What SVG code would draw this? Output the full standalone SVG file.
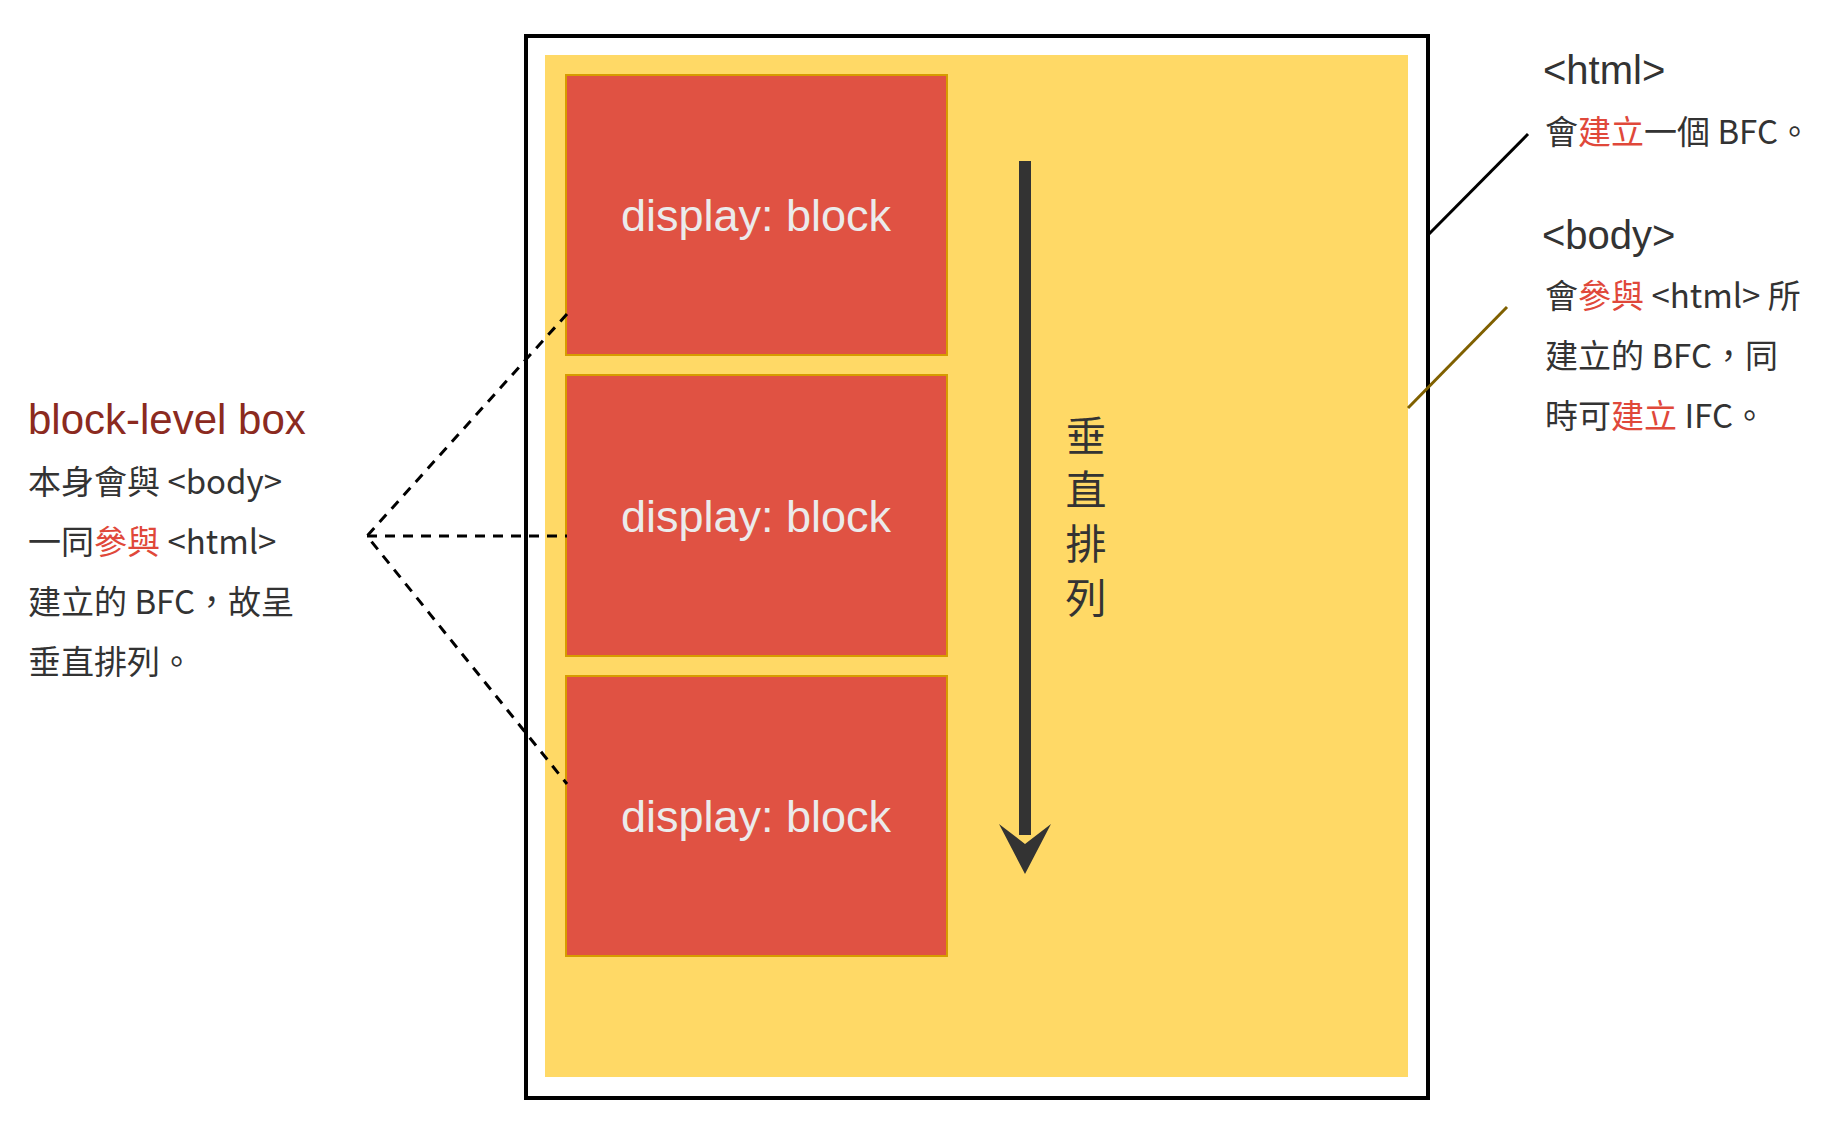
<svg xmlns="http://www.w3.org/2000/svg" width="1836" height="1126" viewBox="0 0 1836 1126">
<style>
.t{font-family:"Noto Sans CJK TC","Liberation Sans",sans-serif;fill:#333}
.r{fill:#E0483A}
.box{fill:#E05243;stroke:#D79B00;stroke-width:2}
.bt{font-family:"Liberation Sans",sans-serif;font-size:45px;fill:#ebebeb;text-anchor:middle}
.d{stroke:#000;stroke-width:3;stroke-dasharray:10 8;fill:none}
</style>
<rect width="1836" height="1126" fill="#fff"/>
<g id="html"><rect x="526" y="36" width="902" height="1062" fill="#fff" stroke="#000" stroke-width="4"/></g>
<g id="body"><rect x="545" y="55" width="863" height="1022" fill="#FFD966"/></g>
<g id="box1"><rect class="box" x="566" y="75" width="381" height="280"/><text class="bt" x="756" y="231">display: block</text></g>
<g id="box2"><rect class="box" x="566" y="375" width="381" height="281"/><text class="bt" x="756" y="532">display: block</text></g>
<g id="box3"><rect class="box" x="566" y="676" width="381" height="280"/><text class="bt" x="756" y="832">display: block</text></g>
<g id="connectors">
<line x1="1025" y1="161" x2="1025" y2="835" stroke="#333" stroke-width="12"/>
<polygon points="999,824 1025,874 1051,824 1025,844" fill="#333"/>
<line x1="1428" y1="235" x2="1528" y2="134" stroke="#000" stroke-width="3"/>
<line x1="1408" y1="408" x2="1507" y2="307" stroke="#7F6000" stroke-width="3"/>
<polyline class="d" points="567,314 367,536 567,784"/>
<line class="d" x1="367" y1="536" x2="567" y2="536"/>
</g>
<g id="vlabel" class="t" font-size="41" text-anchor="middle">
<text x="1086" y="451">垂<tspan x="1086" dy="54">直</tspan><tspan x="1086" dy="54">排</tspan><tspan x="1086" dy="54">列</tspan></text>
</g>
<g id="htmlnote" class="t">
<text x="1543" y="84" font-size="40" font-family="Liberation Sans,sans-serif">&lt;html&gt;</text>
<text x="1545" y="144" font-size="33">會<tspan class="r">建立</tspan>一個 BFC。</text>
</g>
<g id="bodynote" class="t" font-size="33">
<text x="1542" y="249" font-size="40" font-family="Liberation Sans,sans-serif">&lt;body&gt;</text>
<text x="1545" y="308">會<tspan class="r">參與</tspan> &lt;html&gt; 所</text>
<text x="1545" y="368">建立的 BFC，同</text>
<text x="1545" y="428">時可<tspan class="r">建立</tspan> IFC。</text>
</g>
<g id="blocknote" class="t" font-size="33">
<text x="28" y="434" font-size="42" style="fill:#8B2A20" font-family="Liberation Sans,sans-serif">block-level box</text>
<text x="28" y="494">本身會與 &lt;body&gt;</text>
<text x="28" y="554">一同<tspan class="r">參與</tspan> &lt;html&gt;</text>
<text x="28" y="614">建立的 BFC，故呈</text>
<text x="28" y="674">垂直排列。</text>
</g>
</svg>
